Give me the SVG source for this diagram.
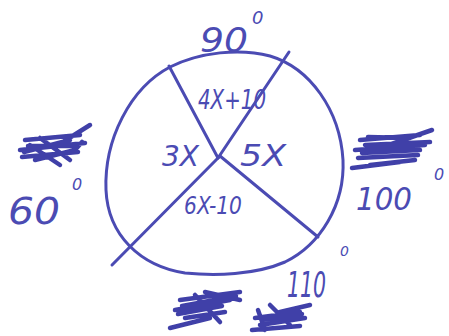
<svg xmlns="http://www.w3.org/2000/svg" width="449" height="336" viewBox="0 0 449 336">
<style>
.s{fill:none;stroke:#4b4bb3;stroke-width:3;stroke-linecap:round;stroke-linejoin:round}
.k{fill:none;stroke:#4040a8;stroke-width:4.5;stroke-linecap:round;stroke-linejoin:round}
.t{fill:#4b4bb3;font-family:"DejaVu Sans",sans-serif;font-style:italic}
</style>
<rect width="449" height="336" fill="#fff"/>
<g id="circle"><path class="s" d="M170,67 C200,52 240,48 270,56 C310,68 340,110 343,160 C345,205 320,245 285,262 C255,275 215,276 185,273 C140,266 108,235 106,190 C104,140 130,88 170,67 Z"/></g>
<g id="connectors">
<path class="s" d="M169,66 L218,158"/>
<path class="s" d="M289,52 L218,158"/>
<path class="s" d="M219,157 L112,265"/>
<path class="s" d="M220,156 L318,237"/>
</g>
<g id="labels">
<text class="t" x="200" y="52" font-size="34" textLength="48" lengthAdjust="spacingAndGlyphs">90</text>
<text class="t" x="252" y="24" font-size="18">0</text>
<text class="t" x="198" y="109" font-size="26" textLength="68" lengthAdjust="spacingAndGlyphs">4X+10</text>
<text class="t" x="162" y="166" font-size="28">3X</text>
<text class="t" x="240" y="166" font-size="30" textLength="46" lengthAdjust="spacingAndGlyphs">5X</text>
<text class="t" x="184" y="214" font-size="24" textLength="58" lengthAdjust="spacingAndGlyphs">6X-10</text>
<text class="t" x="8" y="224" font-size="38" textLength="52" lengthAdjust="spacingAndGlyphs">60</text>
<text class="t" x="72" y="190" font-size="16">0</text>
<text class="t" x="356" y="210" font-size="32" textLength="56" lengthAdjust="spacingAndGlyphs">100</text>
<text class="t" x="434" y="180" font-size="16">0</text>
<text class="t" x="287" y="297" font-size="36" textLength="39" lengthAdjust="spacingAndGlyphs">110</text>
<text class="t" x="340" y="256" font-size="14">0</text>
</g>
<g id="scribbles">
<path class="k" d="M25,140 L80,135 M20,150 L85,143 M22,157 L78,152 M28,146 L75,146 M30,145 L60,165 M40,138 L70,160 M55,147 L90,125 M35,160 L75,150 L82,142 M24,152 L70,140"/>
<path class="k" d="M360,140 L420,135 M355,150 L425,145 M358,158 L418,155 M365,145 L430,142 M370,165 L415,160 M380,148 L432,130 M352,168 L400,162 M362,153 L420,150 M368,137 L410,138"/>
<path class="k" d="M180,300 L240,292 M175,310 L230,300 M185,318 L225,312 M170,328 L210,318 M195,295 L220,322 M205,292 L240,300 M182,306 L236,296 M178,314 L222,306"/>
<path class="k" d="M255,318 L300,312 M260,325 L305,318 M258,310 L265,330 M270,305 L290,325 M280,312 L310,305 M252,330 L300,326 M262,320 L302,314"/>
</g>
</svg>
